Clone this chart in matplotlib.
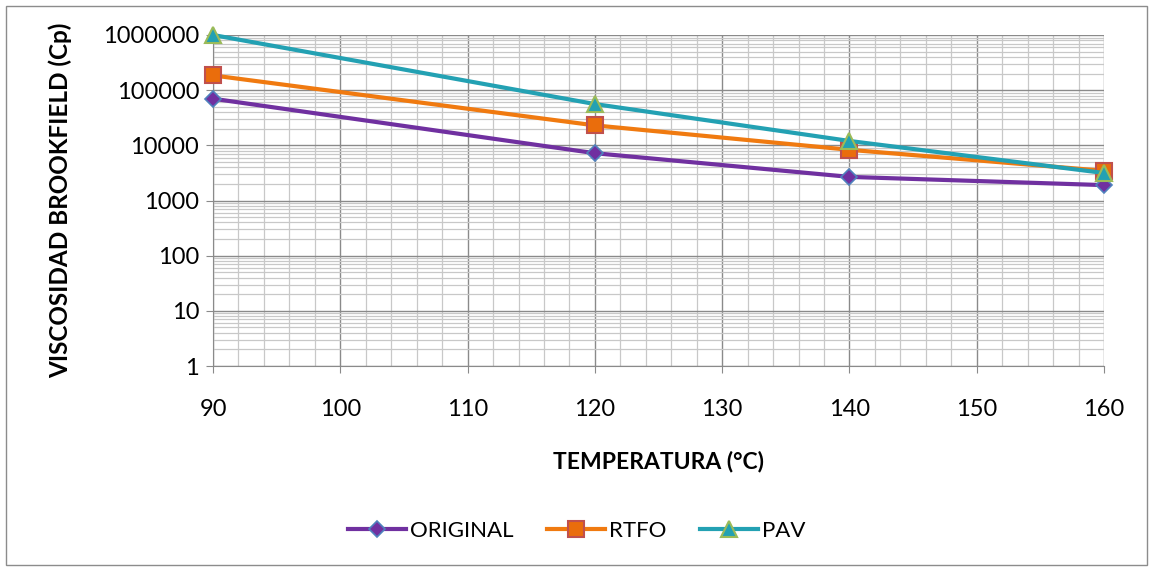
import matplotlib
matplotlib.use("Agg")
import matplotlib.pyplot as plt
from matplotlib.ticker import FixedLocator, LogLocator, NullFormatter
from matplotlib.patches import Rectangle

temperatura = [90, 120, 140, 160]
original = [70000, 7200, 2680, 1900]
rtfo = [185000, 23000, 8300, 3450]
pav = [1000000, 56000, 12000, 3150]

x_ticks = [90, 100, 110, 120, 130, 140, 150, 160]
y_ticks = [1, 10, 100, 1000, 10000, 100000, 1000000]
y_labels = ["1", "10", "100", "1000", "10000", "100000", "1000000"]

plt.rcParams["font.family"] = ["Lato", "DejaVu Sans"]

fig = plt.figure(figsize=(11.54, 5.68), dpi=100)
ax = fig.add_axes([0.1846, 0.3556, 0.9567 - 0.1846, 0.9384 - 0.3556])

# frame around the whole chart
fig.patches.append(Rectangle((0.005, 0.005), 0.989, 0.985, transform=fig.transFigure,
                             fill=False, edgecolor="#8c8c8c", linewidth=1.0))

ax.set_yscale("log")
ax.set_xlim(90, 160)
ax.set_ylim(1, 1000000)

ax.xaxis.set_major_locator(FixedLocator(x_ticks))
ax.xaxis.set_minor_locator(FixedLocator(list(range(90, 161, 2))))
ax.yaxis.set_major_locator(FixedLocator(y_ticks))
ax.yaxis.set_minor_locator(LogLocator(base=10, subs=range(2, 10), numticks=20))
ax.yaxis.set_minor_formatter(NullFormatter())
ax.set_xticklabels([str(t) for t in x_ticks])
ax.set_yticklabels(y_labels)

ax.grid(True, which="major", color="#8a8a8a", linewidth=1.0)
ax.grid(True, which="minor", color="#c8c8c8", linewidth=0.9)
ax.set_axisbelow(True)

for side in ["top", "right"]:
    ax.spines[side].set_visible(False)
for side in ["left", "bottom"]:
    ax.spines[side].set_color("#8a8a8a")

ax.tick_params(axis="both", which="major", length=5, color="#8a8a8a", labelsize=17, labelcolor="black")
ax.tick_params(axis="x", which="major", pad=19)
ax.tick_params(axis="y", which="major", pad=5)
ax.tick_params(axis="both", which="minor", length=0)

ax.plot(temperatura, original, color="#7030a0", linewidth=3, marker="D", markersize=8,
        markerfacecolor="#7030a0", markeredgecolor="#4f81bd", markeredgewidth=1.2,
        label="ORIGINAL", clip_on=False, zorder=3)
ax.plot(temperatura, rtfo, color="#f07a10", linewidth=3, marker="s", markersize=11,
        markerfacecolor="#ea6d0c", markeredgecolor="#c0504d", markeredgewidth=1.5,
        label="RTFO", clip_on=False, zorder=4)
ax.plot(temperatura, pav, color="#23a1b3", linewidth=3, marker="^", markersize=11,
        markerfacecolor="#23a1b3", markeredgecolor="#9bbb59", markeredgewidth=1.5,
        label="PAV", clip_on=False, zorder=5)

ax.set_xlabel("TEMPERATURA (°C)", fontsize=16.5, fontweight="bold", labelpad=22)
ax.set_ylabel("VISCOSIDAD BROOKFIELD (Cp)", fontsize=17.5, fontweight="bold", labelpad=22)

fig.legend(loc="center", bbox_to_anchor=(0.5, 0.065), ncol=3, frameon=False,
           fontsize=16, handlelength=2.6, columnspacing=1.5, handletextpad=0.2)

fig.savefig("out.png", dpi=100)
plt.close(fig)
